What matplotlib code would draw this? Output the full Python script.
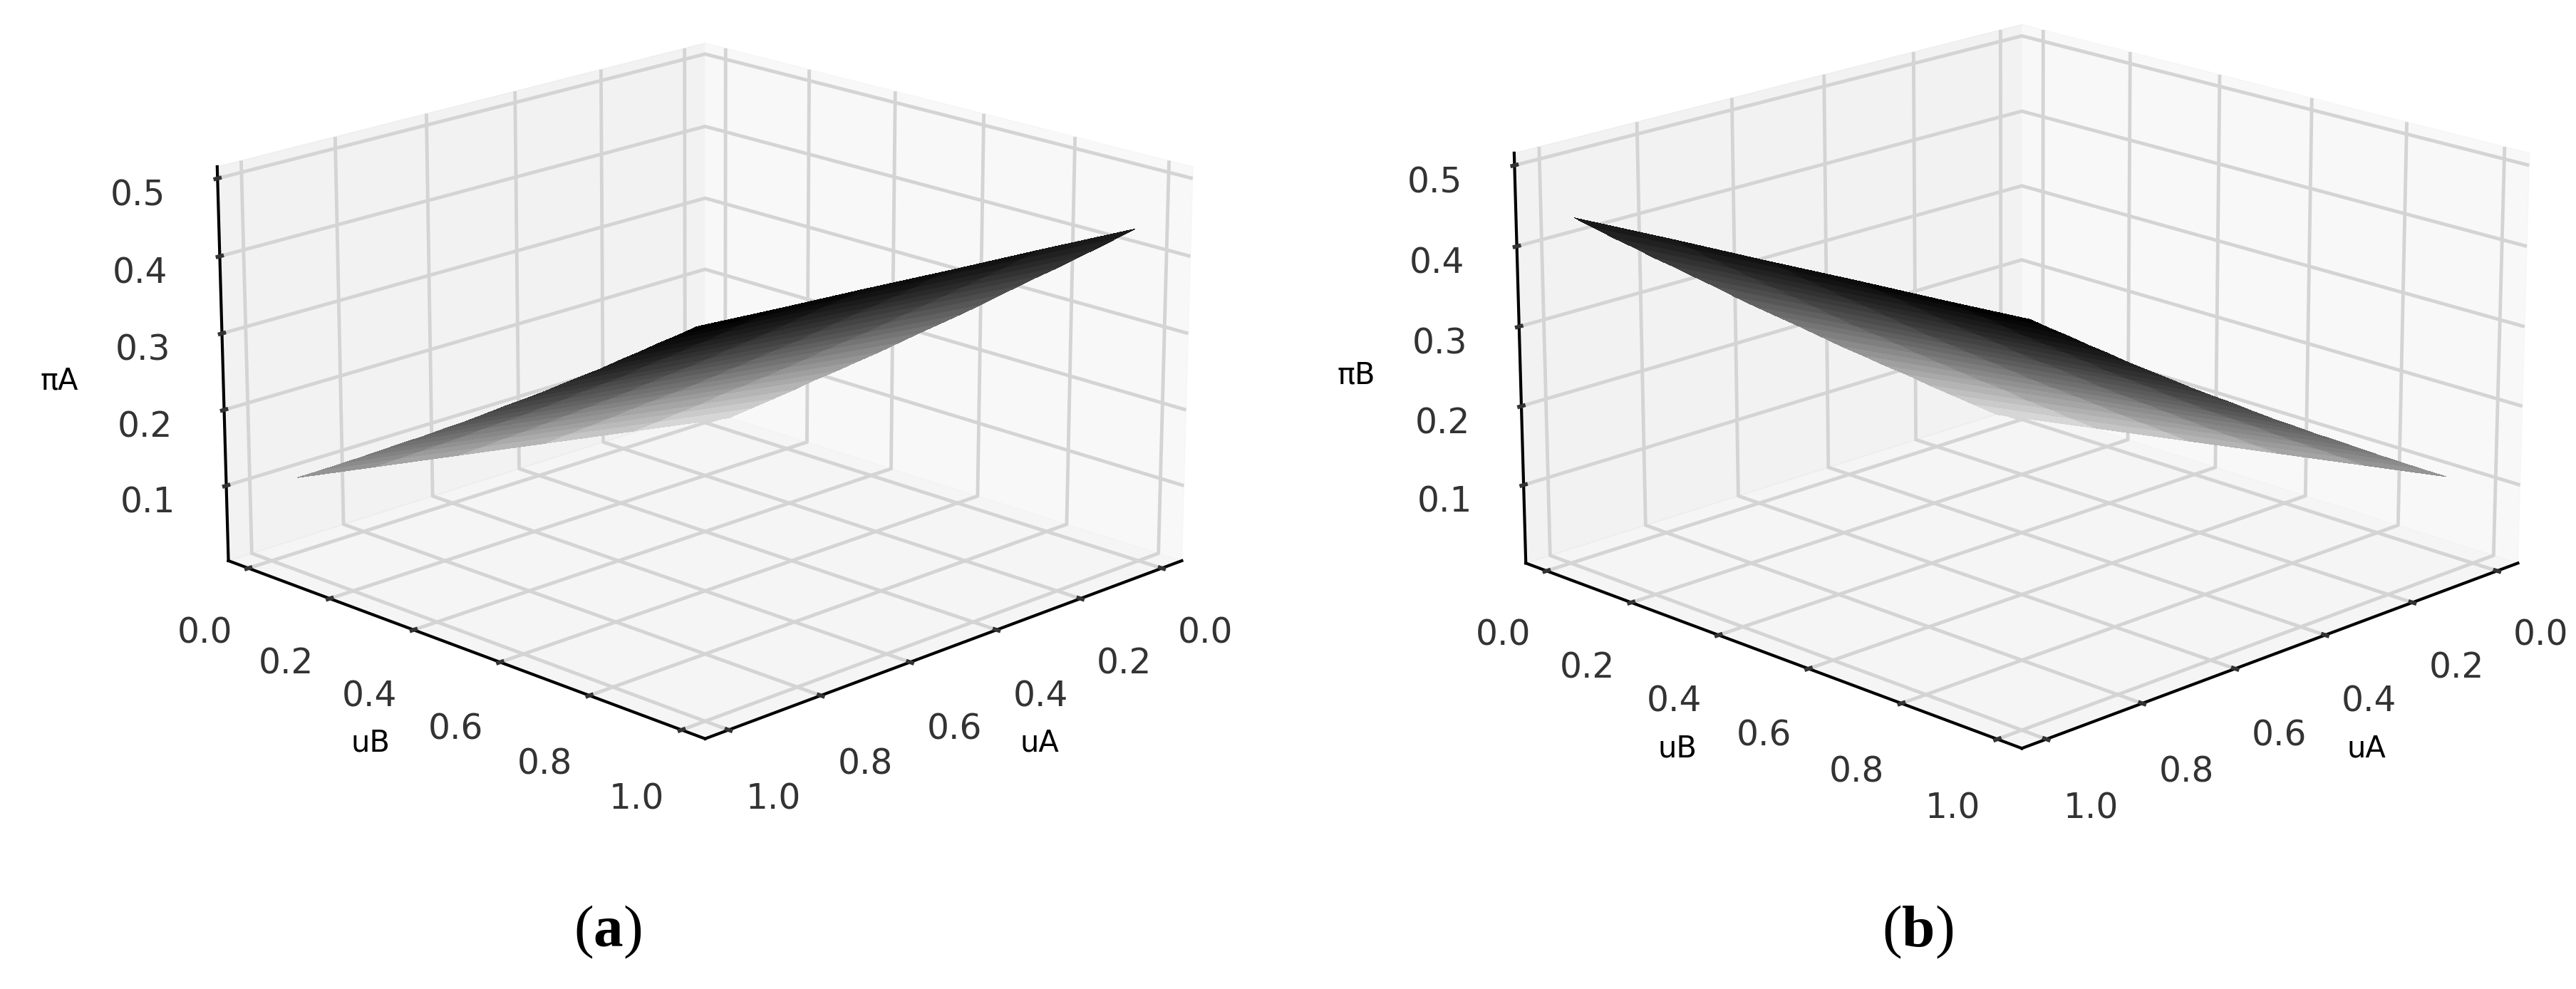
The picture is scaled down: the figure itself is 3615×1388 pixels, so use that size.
import matplotlib
matplotlib.use('Agg')
import matplotlib.pyplot as plt
import numpy as np

plt.rcParams['mathtext.fontset'] = 'custom'
plt.rcParams['mathtext.bf'] = 'Liberation Serif:bold'
plt.rcParams['mathtext.rm'] = 'Liberation Serif'

u_ticks = [0.0, 0.2, 0.4, 0.6, 0.8, 1.0]
z_ticks = [0.1, 0.2, 0.3, 0.4, 0.5]

# surface heights: edges, inside is a guess
fine_u = [.03, .076, .122, .168, .214, .26, .306, .352, .398, .444, .49,
          .536, .582, .628, .674, .72, .766, .812, .858, .904, .95]
coarse_u = [.01, .208, .406, .604, .802, 1.0]
# one row per coarse_u value (other player's u), one column per fine_u value
pi_rows = [
    [.143, .139, .136, .132, .129, .125, .1225, .120, .117, .115, .1135, .111, .109, .108, .1065, .106, .105, .104, .1035, .103, .103],
    [.202, .198, .195, .191, .187, .184, .181, .178, .174, .172, .170, .167, .165, .163, .162, .161, .159, .158, .157, .156, .155],
    [.262, .257, .254, .250, .246, .242, .239, .236, .232, .229, .227, .224, .221, .219, .217, .215, .213, .211, .210, .208, .207],
    [.321, .317, .312, .308, .304, .301, .297, .293, .289, .286, .283, .280, .277, .274, .272, .270, .268, .265, .263, .261, .259],
    [.381, .376, .371, .367, .363, .359, .355, .351, .347, .343, .340, .337, .333, .330, .327, .324, .322, .318, .316, .313, .311],
    [.440, .435, .430, .426, .421, .4175, .413, .409, .404, .400, .3965, .393, .389, .385, .382, .3785, .376, .372, .369, .366, .363],
]


def panel(rect, xx, yy, z, shade, zname, tag, tag_x):
    ax = fig.add_axes(rect, projection='3d')
    ax.view_init(elev=18, azim=45)
    ax.set_box_aspect((4, 4, 2.43))
    ax.plot_surface(xx, yy, z, facecolors=plt.cm.gray(shade), rstride=1, cstride=1,
                    shade=False, linewidth=0, antialiased=False)
    ax.set_xlim(-0.05, 1.05)
    ax.set_ylim(-0.05, 1.05)
    ax.set_zlim(0.0, 0.515)
    ax.set_xticks(u_ticks)
    ax.set_yticks(u_ticks)
    ax.set_zticks(z_ticks)
    ax.tick_params(axis='x', labelsize=35, colors='#333333', pad=38)
    ax.tick_params(axis='y', labelsize=35, colors='#333333', pad=38)
    ax.tick_params(axis='z', labelsize=35, colors='#333333', pad=36)
    for axis in (ax.xaxis, ax.yaxis, ax.zaxis):
        axis._axinfo['grid']['linewidth'] = 3.5
        axis._axinfo['grid']['color'] = '#d4d4d4'
        axis._axinfo['tick']['linewidth'] = {True: 4, False: 2}
        axis._axinfo['tick']['inward_factor'] = 0.05
        axis._axinfo['tick']['outward_factor'] = 0.05
        axis._axinfo['axisline']['color'] = '#333333'
        axis._axinfo['axisline']['linewidth'] = 3
        axis.line.set_linewidth(3)
    ax.zaxis.set_rotate_label(False)
    ax.zaxis._axinfo['label']['va'] = 'top'
    ax.set_xlabel('uA', fontsize=30, labelpad=68, rotation=0)
    ax.set_ylabel('uB', fontsize=30, labelpad=68, rotation=0)
    ax.set_zlabel(zname, fontsize=30, labelpad=70, rotation=0)
    fig.text(tag_x, 0.0576, tag, fontsize=60, family='Liberation Serif', ha='center', va='center')
    return ax


fig = plt.figure(figsize=(36.16, 13.88), dpi=100)
side_a = 1430 / 1388
side_b = 1488 / 1388

# panel a: uA is the fine direction
ua, ub = np.meshgrid(fine_u, coarse_u)
pi_a = np.array(pi_rows)
shade_a = (0.7 * ua + 0.15 * ub + 0.15 * ua * ub) ** 1.2
panel([0.0383, 0.616 - side_a / 2, 0.46, side_a], ua, ub, pi_a, shade_a, '\u03c0A', r'($\mathbf{a}$)', 0.2358)

# panel b: same numbers with the two players swapped
ua, ub = np.meshgrid(coarse_u, fine_u)
pi_b = np.array(pi_rows).T
shade_b = (0.7 * ub + 0.15 * ua + 0.15 * ua * ub) ** 1.2
panel([0.5491, 0.621 - side_b / 2, 0.46, side_b], ua, ub, pi_b, shade_b, '\u03c0B', r'($\mathbf{b}$)', 0.7443)

fig.savefig('out.png', dpi=100)
